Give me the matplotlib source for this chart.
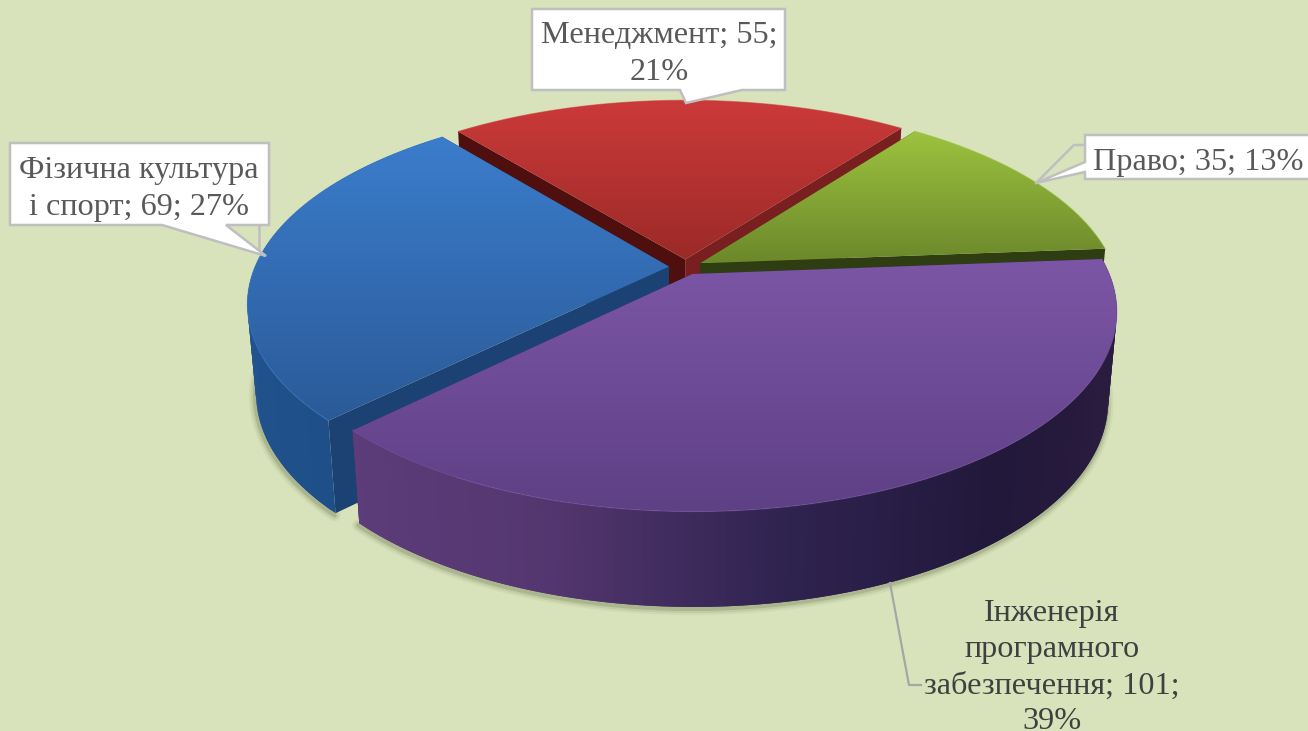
import numpy as np
import matplotlib
matplotlib.use('Agg')
import matplotlib.pyplot as plt
from matplotlib.patches import Polygon

plt.rcParams['font.family'] = ['Liberation Serif', 'DejaVu Serif']

# chart data, clockwise from the right side of the pie
categories = ['Інженерія програмного забезпечення', 'Фізична культура і спорт', 'Менеджмент', 'Право']
values = [101, 69, 55, 35]
percents = [39, 27, 21, 13]

# colours per slice: top gradient (far, near), cut faces, outer wall stops
top_colors = ['#7c56a6', '#3b7dcc', '#cc3a3a', '#9dc33f']
top_colors2 = ['#5e4085', '#2b5a98', '#9b2a28', '#6c882b']
cut_colors = ['#3a2a55', '#1b4272', '#7a1f1f', '#2f3d12']
wall_colors = [['#2c1e42', '#2a1c3e', '#21183a', '#2f2350', '#553770', '#5c3c7a'],
               ['#1f4f88', '#245490', '#2a5c9a'],
               None,
               None]

bg = '#d8e3bc'
start_angle = -4.5
explode = 0.04
cx, cy, a, b, p = 685.5, 267, 414, 191, 0.184
wall_h, sx_low, sy_low = 88, 0.98, 1.03

fig = plt.figure(figsize=(13.08, 7.31), dpi=100, facecolor=bg)
ax = fig.add_axes([0, 0, 1, 1])
ax.set_axis_off()


def top_xy(x, y):
    d = 1 - p * y
    return cx + a * x / d, cy + b * y / d


def low_xy(x, y):
    X, Y = top_xy(x, y)
    return cx + sx_low * (X - cx), cy + wall_h + sy_low * (Y - cy)


def quad_fill(xa, ya, xb, yb, color, z):
    ax.add_patch(Polygon(list(zip(xa, ya)) + list(zip(xb[::-1], yb[::-1])),
                         closed=True, fc=color, ec='none', zorder=z))


# slice angles come from the values
shares = np.array(values) / sum(values) * 360
starts = start_angle + np.concatenate([[0], np.cumsum(shares)[:-1]])
draw_order = [2, 3, 1, 0]  # far slices first

# soft shadow under the front of the pie
for i in [1, 0]:
    t = np.radians(np.linspace(starts[i], starts[i] + shares[i], 200))
    mid = np.radians(starts[i] + shares[i] / 2)
    ox, oy = explode * np.cos(mid), explode * np.sin(mid)
    X, Y = low_xy(np.cos(t) + ox, np.sin(t) + oy)
    for w, al in [(9, 0.06), (6, 0.1), (3, 0.18)]:
        ax.plot(X - 1, Y + 2, color='#4a5530', lw=w, alpha=al, zorder=1, solid_capstyle='round')

z = 2
for i in draw_order:
    t0, t1 = starts[i], starts[i] + shares[i]
    mid = np.radians((t0 + t1) / 2)
    ox, oy = explode * np.cos(mid), explode * np.sin(mid)
    t = np.radians(np.linspace(t0, t1, 241))
    ux, uy = np.cos(t) + ox, np.sin(t) + oy

    # cut faces
    for end in [t0, t1]:
        e = np.radians(end)
        xs = np.array([ox, np.cos(e) + ox])
        ys = np.array([oy, np.sin(e) + oy])
        X1, Y1 = top_xy(xs, ys)
        X2, Y2 = low_xy(xs, ys)
        col = cut_colors[i]
        if i == 2 and end == t0:
            col = '#4f0f0f'
        quad_fill(X1, Y1, X2, Y2, col, z)
    z += 1

    # outer wall, shaded from one end of the arc to the other (far slices hide theirs)
    if wall_colors[i] is not None:
        stops = [matplotlib.colors.to_rgb(c) for c in wall_colors[i]]
        pos = np.linspace(0, 240, len(stops))
        for k in range(0, 240, 2):
            col = [np.interp(k, pos, [s[c] for s in stops]) for c in range(3)]
            j = list(range(k, min(k + 5, 241)))
            X1, Y1 = top_xy(ux[j], uy[j])
            X2, Y2 = low_xy(ux[j], uy[j])
            quad_fill(X1, Y1, X2, Y2, col, z)
        z += 1

    # top face with a vertical gradient
    X, Y = top_xy(np.r_[ox, ux], np.r_[oy, uy])
    patch = Polygon(np.c_[X, Y], closed=True, fc='none', ec='none', transform=ax.transData)
    ax.add_patch(patch)
    c1 = np.array(matplotlib.colors.to_rgb(top_colors[i]))
    c2 = np.array(matplotlib.colors.to_rgb(top_colors2[i]))
    ramp = np.linspace(0, 1, 128)[:, None, None]
    img = c1[None, None, :] * (1 - ramp) + c2[None, None, :] * ramp
    im = ax.imshow(img, extent=[X.min(), X.max(), Y.max(), Y.min()], aspect='auto', zorder=z)
    im.set_clip_path(patch)
    # thin light rim on the front of the arc
    Xr, Yr = top_xy(ux, uy)
    ax.plot(Xr, Yr, color=top_colors[i], lw=0.8, alpha=0.5, zorder=z + 1)
    z += 2

ax.set_xlim(0, 1308)
ax.set_ylim(731, 0)

box_ec = '#bfbfbf'
z_lab = z + 5

# leaders behind the callouts
ax.plot([1036, 1074, 1085], [183, 145, 145], color=box_ec, lw=1.8, zorder=z_lab)
ax.plot([259, 259], [225, 252], color=box_ec, lw=1.8, zorder=z_lab)
ax.plot([890, 909, 921], [583, 685, 685], color='#a6a6a6', lw=1.6, zorder=z_lab)

# callout boxes, each drawn as a single outline with its tail
outlines = [
    [(532, 9), (785, 9), (785, 90), (742, 90), (686, 103), (680, 90), (532, 90)],
    [(10, 143), (269, 143), (269, 225), (226, 225), (266, 256), (162, 225), (10, 225)],
    [(1085, 135), (1320, 135), (1320, 179), (1085, 179), (1085, 172), (1036, 183), (1085, 162)],
]
for pts in outlines:
    ax.add_patch(Polygon(pts, closed=True, fc='white', ec=box_ec, lw=1.8, zorder=z_lab + 1,
                         joinstyle='miter'))

# label lines
label_lines = [
    (['Менеджмент; 55;', '21%'], 659, [43, 80], '#595959'),
    (['Фізична культура', 'і спорт; 69; 27%'], 139, [178, 215], '#595959'),
    (['Право; 35; 13%'], 1198, [170], '#595959'),
    (['Інженерія', 'програмного', 'забезпечення; 101;', '39%'], 1052, [621, 657, 694, 729], '#404040'),
]
for lines, x, ys, col in label_lines:
    for s, y in zip(lines, ys):
        ax.text(x, y, s, ha='center', va='baseline', fontsize=23.2, color=col, zorder=z_lab + 2)

fig.savefig('out.png', dpi=100, facecolor=bg)
